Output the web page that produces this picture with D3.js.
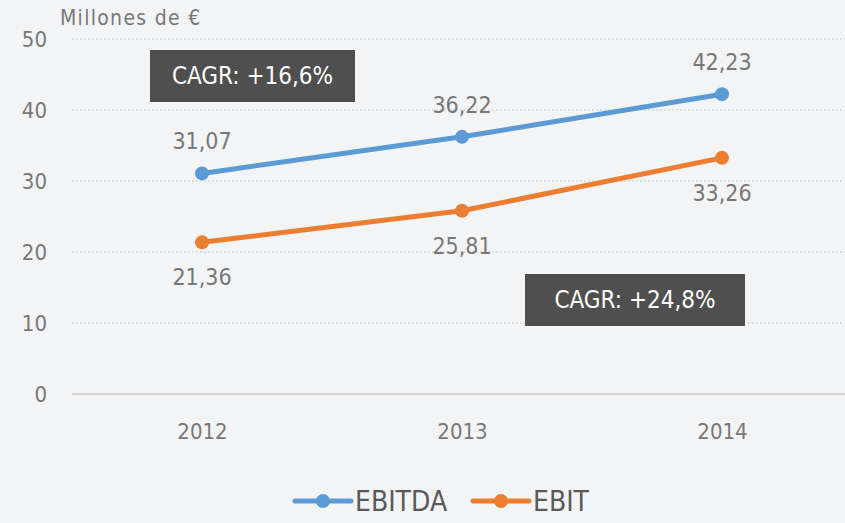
<!DOCTYPE html>
<html><head><meta charset="utf-8">
<script src="https://cdn.jsdelivr.net/npm/d3@7"></script>
<style>html,body{margin:0;padding:0;background:#f3f4f6;}svg{display:block;}</style>
</head><body>
<svg id="c" width="845" height="523"></svg>
<script>
const years = ["2012","2013","2014"];
const ebitda = [31.07, 36.22, 42.23];
const ebit = [21.36, 25.81, 33.26];
const yTicks = [0,10,20,30,40,50];
const seriesNames = ["EBITDA","EBIT"];
const cagrLabels = ["CAGR: +16,6%","CAGR: +24,8%"];
const colors = ["#5B9BD5","#ED7D31"];

const svg = d3.select("#c");
const font = "'DejaVu Sans Condensed', 'DejaVu Sans', sans-serif";
svg.append("rect").attr("width",845).attr("height",523).attr("fill","#f3f4f6");

const x = d3.scalePoint().domain(years).range([72,852]).padding(0.5);
const y = d3.scaleLinear().domain([0,50]).range([394,39]);

// grid
svg.append("g").selectAll("line").data(yTicks.filter(d=>d>0)).join("line")
  .attr("x1",72).attr("x2",845).attr("y1",d=>y(d)).attr("y2",d=>y(d))
  .attr("stroke","#cfcfcf").attr("stroke-width",1.5).attr("stroke-dasharray","1.5,2.5");
svg.append("line").attr("x1",72).attr("x2",845).attr("y1",y(0)).attr("y2",y(0))
  .attr("stroke","#d2d2d2").attr("stroke-width",2);

// y axis labels
const yAxis = d3.axisLeft(y).tickValues(yTicks).tickSize(0).tickPadding(0).tickFormat(d3.format("d"));
const ga = svg.append("g").attr("transform","translate(47,0)").call(yAxis);
ga.select(".domain").remove();
ga.selectAll("text").attr("font-family",font).attr("font-size",22).attr("fill","#787878").attr("dy","0.35em");

// x axis labels
const xAxis = d3.axisBottom(x).tickSize(0).tickPadding(0);
const gx = svg.append("g").attr("transform","translate(0,431)").call(xAxis);
gx.select(".domain").remove();
gx.selectAll("text").attr("font-family",font).attr("font-size",22).attr("fill","#787878").attr("dy","0.35em").attr("y",0);

svg.append("text").attr("x",60).attr("y",25).text("Millones de €")
  .attr("font-family",font).attr("font-size",21).attr("letter-spacing",1.3).attr("fill","#787878");

const series = [ebitda, ebit];
const line = d3.line().x((d,i)=>x(years[i])).y(d=>y(d));
series.forEach((s,k)=>{
  svg.append("path").datum(s).attr("d",line).attr("fill","none")
    .attr("stroke",colors[k]).attr("stroke-width",5).attr("stroke-linejoin","round");
  svg.append("g").selectAll("circle").data(s).join("circle")
    .attr("cx",(d,i)=>x(years[i])).attr("cy",d=>y(d)).attr("r",7).attr("fill",colors[k]);
  svg.append("g").selectAll("text").data(s).join("text")
    .attr("x",(d,i)=>x(years[i])).attr("y",d=>y(d) + (k===0 ? -32 : 35))
    .attr("text-anchor","middle").attr("dy","0.35em")
    .attr("font-family",font).attr("font-size",23).attr("fill","#787878")
    .text(d=>d.toFixed(2).replace(".",","));
});

// CAGR boxes
const boxes = [{x:150,y:50,w:205,h:52},{x:525,y:274,w:220,h:52}];
boxes.forEach((b,i)=>{
  svg.append("rect").attr("x",b.x).attr("y",b.y).attr("width",b.w).attr("height",b.h).attr("fill","#4f4f4f");
  svg.append("text").attr("x",b.x+b.w/2).attr("y",b.y+b.h/2).attr("dy","0.35em")
    .attr("text-anchor","middle").attr("font-family",font).attr("font-size",24).attr("fill","#ffffff")
    .text(cagrLabels[i]);
});

// legend
const leg = [{x:295},{x:473}];
leg.forEach((l,i)=>{
  svg.append("line").attr("x1",l.x).attr("x2",l.x+56).attr("y1",501).attr("y2",501)
    .attr("stroke",colors[i]).attr("stroke-width",5).attr("stroke-linecap","round");
  svg.append("circle").attr("cx",l.x+28).attr("cy",501).attr("r",7).attr("fill",colors[i]);
  svg.append("text").attr("x",l.x+60).attr("y",501).attr("dy","0.35em")
    .attr("font-family",font).attr("font-size",28).attr("fill","#595959").text(seriesNames[i]);
});
</script>
</body></html>
